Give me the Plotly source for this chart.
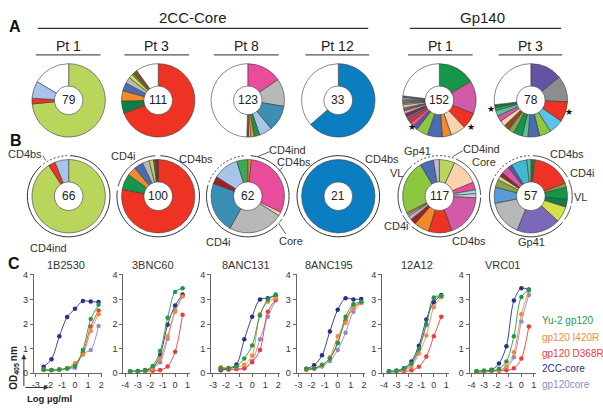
import numpy as np
import plotly.graph_objects as go

W, H = 603, 414
FONT = "Liberation Sans, Arial, sans-serif"

# ---------------- colours ----------------
YG = '#b9d55b'; RED = '#ee3224'; LB = '#a7c5e8'; WH = '#ffffff'; DG = '#0f7f45'
OR = '#f08a2c'; BL = '#4b6cb0'; GY = '#b8b8b8'; YL = '#d7e04a'; GR = '#3aa856'
BR = '#8b4b2a'; PK = '#e94c9a'; TL = '#3b8fb4'; PE = '#f9d2b0'; B12 = '#0b7dc1'
GN = '#16964a'; MG = '#d35aa8'; PU = '#6652a3'; DGY = '#8d8d8d'; SK = '#5ac3ea'
DR = '#9e1f26'; LG = '#8dc63f'; OL = '#86a447'; CY = '#40b8d2'; LGY = '#d0d0d0'
LAV = '#c0b7dd'; TE = '#5bbf9e'; LYG = '#c8dc8c'; LCY = '#9ad9e6'

# ---------------- Panel A data ----------------
A_pt1_vals = [58, 2, 6, 13]
A_pt1_cols = [YG, RED, LB, WH]
A_pt3_vals = [77, 6, 5, 4, 3, 2, 1, 2, 11]
A_pt3_cols = [RED, DG, OR, BL, GY, YL, GR, BR, WH]
A_pt8_vals = [19, 15, 14, 7, 3, 2, 1, 1, 61]
A_pt8_cols = [PK, GY, TL, LB, GN, OR, PE, BR, WH]
A_pt12_vals = [21, 12]
A_pt12_cols = [B12, WH]
A_gp1_vals = [25, 22, 11, 10, 6, 10, 8, 3, 3, 3, 2, 2, 2, 1, 1, 2, 1, 1, 1, 1, 1, 1, 35]
A_gp1_cols = [GN, MG, RED, PE, OR, BL, LG, PU, MG, RED, BL, DR, GY, PK, OR, LGY, YL, DGY, LB, LAV, LGY, BL, WH]
A_gp3_vals = [11, 9, 7, 5, 4, 4, 2, 3, 2, 2, 2, 2, 2, 1, 1, 21]
A_gp3_cols = [PU, DGY, RED, SK, LG, BL, TE, GN, OL, BR, PE, MG, TE, GR, DG, WH]
A_totals = ['79', '111', '123', '33', '152', '78']

# ---------------- Panel B data ----------------
B_pt1_vals = [60, 2, 4]
B_pt1_cols = [YG, RED, LB]
B_pt3_vals = [78, 7, 4, 4, 3, 2, 1, 1]
B_pt3_cols = [RED, GN, OR, BL, GY, YG, BR, DR]
B_pt8_vals = [1, 19, 1, 15, 14, 2, 7, 3]
B_pt8_cols = [OR, PK, PE, GY, TL, DR, LB, GR]
B_pt12_vals = [21]
B_pt12_cols = [B12]
B_gp1_vals = [8, 14, 4, 2, 2, 22, 12, 8, 3, 2, 1, 1, 28, 7, 3]
B_gp1_cols = [YG, PE, PK, LCY, LGY, MG, RED, OR, DR, GY, LB, OR, LG, BL, LAV]
B_gp3_vals = [1, 10, 1, 3, 2, 4, 11, 9, 4, 2, 1, 1, 2, 1, 4, 1]
B_gp3_cols = [DG, RED, OL, GN, DG, YL, '#7b68b8', GY, '#5b9bd5', OL, LYG, DR, MG, PU, CY, TE]
B_totals = ['66', '100', '62', '21', '117', '57']

# ---------------- Panel C data ----------------
x_a = [-2.4, -1.8, -1.2, -0.6, 0, 0.6, 1.2, 1.8]
x_b = [-3.6, -3.0, -2.4, -1.8, -1.2, -0.6, 0, 0.6]
series_names = ['Yu-2 gp120', 'gp120 I420R', 'gp120 D368R', '2CC-core', 'gp120core']
series_cols = ['#1f9a4a', '#f5893a', '#ee3b3b', '#2b2f86', '#8c8cc8']
mab_titles = ['1B2530', '3BNC60', '8ANC131', '8ANC195', '12A12', 'VRC01']

od_1B2530 = [[0.15, 0.13, 0.15, 0.2, 0.3, 0.95, 2.2, 2.78],
             [0.14, 0.13, 0.15, 0.2, 0.42, 0.75, 1.72, 2.4],
             [0.14, 0.13, 0.15, 0.2, 0.38, 0.85, 1.9, 2.55],
             [0.27, 0.57, 1.5, 2.28, 2.62, 2.93, 2.91, 2.89],
             [0.13, 0.12, 0.14, 0.18, 0.22, 0.8, 0.95, 1.92]]
od_3BNC60 = [[0.08, 0.09, 0.12, 0.3, 0.9, 2.25, 3.3, 3.45],
             [0.07, 0.08, 0.1, 0.18, 0.6, 1.5, 2.5, 3.12],
             [0.07, 0.08, 0.08, 0.1, 0.13, 0.28, 0.87, 2.38],
             [0.08, 0.09, 0.13, 0.22, 0.75, 1.97, 2.75, 3.2],
             [0.07, 0.08, 0.1, 0.2, 0.45, 1.4, 2.55, 3.15]]
od_8ANC131 = [[0.2, 0.2, 0.28, 0.6, 1.13, 2.35, 3.0, 3.2],
              [0.25, 0.22, 0.25, 0.35, 0.72, 2.4, 2.9, 3.05],
              [0.15, 0.15, 0.17, 0.2, 0.45, 0.95, 2.5, 3.0],
              [0.12, 0.2, 0.36, 1.38, 2.3, 3.0, 3.05, 3.15],
              [0.15, 0.15, 0.17, 0.2, 0.5, 1.38, 2.3, 2.95]]
od_8ANC195 = [[0.18, 0.2, 0.35, 0.6, 1.22, 2.3, 2.8, 2.9],
              [0.15, 0.2, 0.3, 0.65, 1.5, 2.05, 2.65, 2.85],
              [0.15, 0.2, 0.32, 0.62, 1.25, 2.15, 2.7, 2.88],
              [0.18, 0.33, 0.73, 1.7, 2.58, 3.05, 3.0, 3.02],
              [0.13, 0.18, 0.28, 0.5, 0.95, 1.65, 2.5, 2.85]]
od_12A12 = [[0.08, 0.1, 0.18, 0.4, 1.0, 2.0, 3.08, 3.15],
            [0.06, 0.08, 0.12, 0.28, 0.8, 1.53, 2.68, 3.1],
            [0.05, 0.06, 0.08, 0.12, 0.27, 0.68, 1.5, 2.3],
            [0.08, 0.1, 0.2, 0.48, 1.12, 2.18, 2.88, 3.18],
            [0.07, 0.1, 0.15, 0.35, 0.95, 1.95, 3.05, 3.1]]
od_VRC01 = [[0.08, 0.1, 0.12, 0.18, 0.48, 1.5, 3.1, 3.38],
            [0.06, 0.07, 0.1, 0.13, 0.28, 0.85, 2.4, 3.35],
            [0.05, 0.06, 0.08, 0.1, 0.12, 0.2, 0.6, 1.9],
            [0.08, 0.1, 0.14, 0.4, 1.1, 2.95, 3.45, 3.4],
            [0.06, 0.07, 0.1, 0.12, 0.22, 0.65, 2.1, 3.18]]

C_data = [(x_a, od_1B2530), (x_b, od_3BNC60), (x_a, od_8ANC131),
          (x_a, od_8ANC195), (x_b, od_12A12), (x_b, od_VRC01)]

# ---------------- layout geometry (pixels) ----------------
donut_cx = [67, 157, 247, 338, 439.5, 531.5]
A_cy, B_cy, R, RING = 98.5, 196.5, 37.5, 41.5

fig = go.Figure()
# invisible full-figure pixel axis for decorations
fig.add_trace(go.Scatter(x=[0], y=[0], mode='markers', marker=dict(opacity=0),
                         showlegend=False, hoverinfo='skip'))

def add_donut(vals, cols, cx, cy):
    fig.add_trace(go.Pie(values=vals, marker=dict(colors=cols, line=dict(color='#3a3a3a', width=0.6)),
                         hole=0.39, sort=False, direction='clockwise', rotation=0,
                         textinfo='none', hoverinfo='skip', showlegend=False,
                         domain=dict(x=[(cx - R) / W, (cx + R) / W],
                                     y=[1 - (cy + R) / H, 1 - (cy - R) / H])))

A_sets = [(A_pt1_vals, A_pt1_cols), (A_pt3_vals, A_pt3_cols), (A_pt8_vals, A_pt8_cols),
          (A_pt12_vals, A_pt12_cols), (A_gp1_vals, A_gp1_cols), (A_gp3_vals, A_gp3_cols)]
B_sets = [(B_pt1_vals, B_pt1_cols), (B_pt3_vals, B_pt3_cols), (B_pt8_vals, B_pt8_cols),
          (B_pt12_vals, B_pt12_cols), (B_gp1_vals, B_gp1_cols), (B_gp3_vals, B_gp3_cols)]

annotations = []
shapes = []

def text(t, x, y, size=11, color='#333', xanchor='center', bold=False, angle=0):
    if bold:
        t = '<b>' + t + '</b>'
    annotations.append(dict(text=t, x=x, y=y, xref='x', yref='y', showarrow=False,
                            font=dict(size=size, color=color, family=FONT),
                            xanchor=xanchor, yanchor='middle', textangle=angle))

for i, (v, c) in enumerate(A_sets):
    add_donut(v, c, donut_cx[i], A_cy)
    text(A_totals[i], donut_cx[i], A_cy, size=12, color='#222')
for i, (v, c) in enumerate(B_sets):
    add_donut(v, c, donut_cx[i], B_cy)
    text(B_totals[i], donut_cx[i], B_cy, size=12, color='#222')

def line(x0, y0, x1, y1, w=1, color='#333', dash='solid'):
    shapes.append(dict(type='line', x0=x0, y0=y0, x1=x1, y1=y1, xref='x', yref='y',
                       line=dict(color=color, width=w, dash=dash)))

def arc(cx, cy, a0, a1, dash='solid', r=RING):
    ang = np.radians(np.linspace(a0, a1, 60))
    xs = cx + r * np.sin(ang)
    ys = cy - r * np.cos(ang)
    p = 'M ' + ' L '.join(f'{x:.2f},{y:.2f}' for x, y in zip(xs, ys))
    shapes.append(dict(type='path', path=p, xref='x', yref='y',
                       line=dict(color='#333', width=1, dash=dash)))

# headers
text('A', 13, 23, size=16, color='#111', bold=True)
text('B', 14, 140, size=16, color='#111', bold=True)
text('C', 12, 265, size=16, color='#111', bold=True)
text('2CC-Core', 192, 14, size=15, color='#222')
text('Gp140', 483, 14, size=15, color='#222')
line(36, 25, 368, 25, w=1.2)
line(410, 25, 562, 25, w=1.2)
pt_labels = ['Pt 1', 'Pt 3', 'Pt 8', 'Pt 12', 'Pt 1', 'Pt 3']
pt_lines = [(34, 99), (123, 188), (213, 278), (305, 369), (408, 473), (499, 563)]
for lab, (a, b) in zip(pt_labels, pt_lines):
    text(lab, (a + b) / 2, 43, size=14, color='#222')
    line(a, 52, b, 52, w=1.2, color='#555')

# stars
for sx, sy in [(412, 126), (471, 126), (491, 107.5), (570, 110)]:
    text('★', sx, sy, size=9, color='#111')

# ---------------- Panel B rings & labels ----------------
cx = donut_cx
arc(cx[0], B_cy, 2, 318); arc(cx[0], B_cy, 322, 358, dash='2px,2px')
arc(cx[1], B_cy, 3, 278); arc(cx[1], B_cy, 284, 356)
arc(cx[2], B_cy, 4, 120); arc(cx[2], B_cy, 124, 130); arc(cx[2], B_cy, 134, 286)
arc(cx[2], B_cy, 290, 356, dash='2px,2px')
arc(cx[3], B_cy, 0, 360)
arc(cx[4], B_cy, 24, 88); arc(cx[4], B_cy, 92, 222); arc(cx[4], B_cy, 226, 242)
arc(cx[4], B_cy, 246, 318); arc(cx[4], B_cy, 322, 380, dash='2px,2px')
arc(cx[5], B_cy, 3, 62); arc(cx[5], B_cy, 66, 100); arc(cx[5], B_cy, 104, 125)
arc(cx[5], B_cy, 130, 296); arc(cx[5], B_cy, 300, 358, dash='2px,2px')

text('CD4bs', 23, 153); line(41, 155, 44, 160, w=0.8)
text('CD4ind', 47, 249)
text('CD4i', 122, 155); text('CD4bs', 195, 158)
text('CD4ind', 287, 149); line(269, 151, 257, 156, w=0.8)
text('CD4bs', 293, 162); line(282, 167, 278, 171, w=0.8)
text('CD4i', 217, 243); text('Core', 290, 242); line(285, 235, 278, 224, w=0.8)
text('CD4bs', 382, 158)
text('Gp41', 418, 150); text('CD4ind', 482, 148); line(463, 150, 453, 156, w=0.8)
text('Core', 484, 161); text('VL', 396, 173); text('CD4i', 396, 227); text('CD4bs', 469, 242)
text('CD4bs', 568, 153); text('CD4i', 583, 173); text('VL', 581, 197); text('Gp41', 532, 243)

# ---------------- Panel C ----------------
plot_px = [(32, 101, [-3.15, 2.1], [-3, -2, -1, 0, 1, 2]),
           (122, 189, [-4.15, 1.2], [-4, -3, -2, -1, 0, 1]),
           (210, 279, [-3.15, 2.1], [-3, -2, -1, 0, 1, 2]),
           (296, 365, [-3.15, 2.1], [-3, -2, -1, 0, 1, 2]),
           (382, 449, [-4.15, 1.2], [-4, -3, -2, -1, 0, 1]),
           (470, 537, [-4.15, 1.2], [-4, -3, -2, -1, 0, 1])]
y_bot_px, y_top_px = 377.5, 275.5
title_x = [64, 152, 245, 329, 417, 503]
layout_axes = {}
for k, ((x0, x1, xr, tv), (xs, ys_set)) in enumerate(zip(plot_px, C_data)):
    n = k + 2
    for name, col, ys in reversed(list(zip(series_names, series_cols, ys_set))):
        fig.add_trace(go.Scatter(x=xs, y=ys, mode='lines+markers', xaxis=f'x{n}', yaxis=f'y{n}',
                                 line=dict(color=col, width=0.9, shape='spline', smoothing=0.9),
                                 marker=dict(color=col, size=4.5), name=name,
                                 showlegend=False, hoverinfo='skip'))
    layout_axes[f'xaxis{n}'] = dict(domain=[x0 / W, x1 / W], range=xr, anchor=f'y{n}',
                                    showline=True, linecolor='#666', linewidth=1, ticks='outside',
                                    ticklen=3, tickcolor='#666', tickvals=tv,
                                    ticktext=[str(t) for t in tv],
                                    tickfont=dict(size=9, color='#333', family=FONT),
                                    showgrid=False, zeroline=False, fixedrange=True)
    layout_axes[f'yaxis{n}'] = dict(domain=[1 - y_bot_px / H, 1 - y_top_px / H], range=[0, 4.05],
                                    anchor=f'x{n}', showline=True, linecolor='#666', linewidth=1,
                                    ticks='outside', ticklen=3, tickcolor='#666',
                                    tickvals=[0, 1, 2, 3, 4],
                                    tickfont=dict(size=9, color='#333', family=FONT),
                                    showgrid=False, zeroline=False, fixedrange=True)
    text(mab_titles[k], title_x[k], 267, size=11, color='#333')

legend_y = [324, 341, 357, 373, 389]
for name, col, ly in zip(series_names, series_cols, legend_y):
    text(name, 541, ly, size=10, color=col, xanchor='left')

text('OD<sub>405 </sub>nm', 12, 372, size=10, color='#222', bold=True, angle=-90)
text('Log µg/ml', 23, 403, size=9.5, color='#222', xanchor='left', bold=True)
annotations.append(dict(x=22, y=358, ax=22, ay=392, xref='x', yref='y', axref='x', ayref='y',
                        text='', showarrow=True, arrowhead=2, arrowsize=1, arrowwidth=1,
                        arrowcolor='#333'))
annotations.append(dict(x=47, y=392, ax=22, ay=392, xref='x', yref='y', axref='x', ayref='y',
                        text='', showarrow=True, arrowhead=2, arrowsize=1, arrowwidth=1,
                        arrowcolor='#333'))

fig.update_layout(
    width=W, height=H, margin=dict(l=0, r=0, t=0, b=0),
    paper_bgcolor='white', plot_bgcolor='rgba(0,0,0,0)',
    xaxis=dict(domain=[0, 1], range=[0, W], visible=False, fixedrange=True),
    yaxis=dict(domain=[0, 1], range=[H, 0], visible=False, fixedrange=True),
    annotations=annotations, shapes=shapes, showlegend=False,
    font=dict(family=FONT),
    **layout_axes)

fig.write_html("out.html", config={'displayModeBar': False},
               post_script="document.body.style.margin='0px';document.body.style.padding='0px';")
